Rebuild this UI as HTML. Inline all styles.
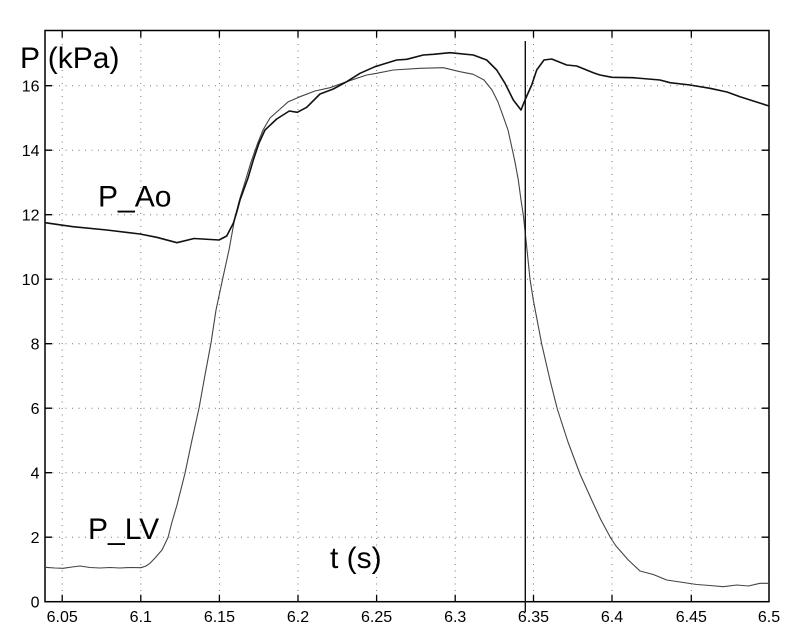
<!DOCTYPE html>
<html><head><meta charset="utf-8"><style>
html,body{margin:0;padding:0;background:#fff;}
svg{display:block;}
text{font-family:"Liberation Sans",Arial,sans-serif;fill:#000;}
</style></head><body>
<svg width="800" height="640" viewBox="0 0 800 640" xmlns="http://www.w3.org/2000/svg">
<rect width="800" height="640" fill="#fff"/>
<!-- grid -->
<g stroke="#777" stroke-width="1" stroke-dasharray="1 5.5" fill="none">
<line x1="62.2" y1="31" x2="62.2" y2="601"/>
<line x1="140.8" y1="31" x2="140.8" y2="601"/>
<line x1="219.4" y1="31" x2="219.4" y2="601"/>
<line x1="298" y1="31" x2="298" y2="601"/>
<line x1="376.6" y1="31" x2="376.6" y2="601"/>
<line x1="455.2" y1="31" x2="455.2" y2="601"/>
<line x1="533.5" y1="31" x2="533.5" y2="601"/>
<line x1="612" y1="31" x2="612" y2="601"/>
<line x1="691.3" y1="31" x2="691.3" y2="601"/>
<line x1="46" y1="537.2" x2="769" y2="537.2"/>
<line x1="46" y1="472.7" x2="769" y2="472.7"/>
<line x1="46" y1="408.2" x2="769" y2="408.2"/>
<line x1="46" y1="343.7" x2="769" y2="343.7"/>
<line x1="46" y1="279.2" x2="769" y2="279.2"/>
<line x1="46" y1="214.7" x2="769" y2="214.7"/>
<line x1="46" y1="150.2" x2="769" y2="150.2"/>
<line x1="46" y1="85.7" x2="769" y2="85.7"/>
</g>
<!-- axes box -->
<rect x="45" y="30.5" width="724" height="571.2" fill="none" stroke="#000" stroke-width="1.5"/>
<!-- ticks -->
<g stroke="#000" stroke-width="1.3">
<path d="M62.2 601.7v-7M140.8 601.7v-7M219.4 601.7v-7M298 601.7v-7M376.6 601.7v-7M455.2 601.7v-7M533.5 601.7v-7M612 601.7v-7M691.3 601.7v-7"/>
<path d="M62.2 30.5v7M140.8 30.5v7M219.4 30.5v7M298 30.5v7M376.6 30.5v7M455.2 30.5v7M533.5 30.5v7M612 30.5v7M691.3 30.5v7"/>
<path d="M45 537.2h7M45 472.7h7M45 408.2h7M45 343.7h7M45 279.2h7M45 214.7h7M45 150.2h7M45 85.7h7"/>
<path d="M769 537.2h-7M769 472.7h-7M769 408.2h-7M769 343.7h-7M769 279.2h-7M769 214.7h-7M769 150.2h-7M769 85.7h-7"/>
</g>
<!-- y tick labels -->
<g font-size="16" text-anchor="end">
<text x="39.5" y="607.5">0</text>
<text x="39.5" y="543">2</text>
<text x="39.5" y="478.5">4</text>
<text x="39.5" y="414">6</text>
<text x="39.5" y="349.5">8</text>
<text x="39.5" y="285">10</text>
<text x="39.5" y="220.5">12</text>
<text x="39.5" y="156">14</text>
<text x="39.5" y="91.5">16</text>
</g>
<!-- x tick labels -->
<g font-size="16" text-anchor="middle">
<text x="62.2" y="622">6.05</text>
<text x="140.8" y="622">6.1</text>
<text x="219.4" y="622">6.15</text>
<text x="298" y="622">6.2</text>
<text x="376.6" y="622">6.25</text>
<text x="455.2" y="622">6.3</text>
<text x="533.5" y="622">6.35</text>
<text x="612" y="622">6.4</text>
<text x="691.3" y="622">6.45</text>
<text x="769" y="622">6.5</text>
</g>
<!-- P_LV -->
<polyline fill="none" stroke="#444" stroke-width="1.1" stroke-linejoin="round" points="
45,567.3 55,568 63,568.3 72,567 80,566 90,567.5 100,568 110,567.5 120,568 130,567.5 141,567.7 146,566 150,563.3 155,558 162,550 168,537.5 172,522 177,505 185,473.3 192,440 199,408.3 205,375 211,343 216,310 223,277.3 229,250 235,217 240,198 245,182 251,162 257,145 263,130 270,118 279,110 288.3,101.7 300,96.7 315,91 330,87.7 346.7,81.7 366.7,75 376.7,73.3 393.3,70 420,68.3 443.3,67.7 460,71.7 473.3,74.3 484,80 492,90 498,102 503.3,116.7 508,130 511.7,146.7 515,162 518.3,180 521,200 523.3,215 526,240 530,279 533.3,300 541.7,344 550,380 557.3,409 568,442 580,474 591.7,500 601,520 610.7,538 616,546 628.3,560 640,571 653.3,574.5 666.7,580 680,582 696.7,584.5 710,585.5 723.3,586.7 736.7,585 748.3,586 760,583.3 769,583.3"/>
<!-- P_Ao -->
<polyline fill="none" stroke="#111" stroke-width="1.6" stroke-linejoin="round" points="
45,222.7 73,226.7 106.7,230 140,234 156.7,237.3 177,242.7 194,238.5 219,240 226.7,236 233.3,223.3 236.5,213 240,200 248,178 253.3,160 259,143 265,130 276.7,119 289.3,111 297.3,112.3 306.7,107.3 320,94 333.3,89 346.7,81.7 360,73.3 375,66.7 396.7,60 406.7,59.3 423.3,55 433.3,54.3 450,52.7 473.3,55 486.7,60 496.7,70 505,83.3 513.3,100 521,110 525,100 531.7,85 536.7,70 544,60 551.7,59 566.7,65 576.7,66 593.3,72.7 600,75 612,77.3 633,77.7 660,80 670,82.7 690,85 710,88.3 727,92 740,96.7 769,106"/>
<!-- vertical marker line -->
<line x1="525.3" y1="41" x2="525.3" y2="612" stroke="#111" stroke-width="1.4"/>
<!-- annotations -->
<g font-size="30">
<text x="20" y="68">P (kPa)</text>
<text x="98" y="206.7">P_Ao</text>
<text x="88" y="539">P_LV</text>
<text x="330" y="568">t (s)</text>
</g>
</svg>
</body></html>
